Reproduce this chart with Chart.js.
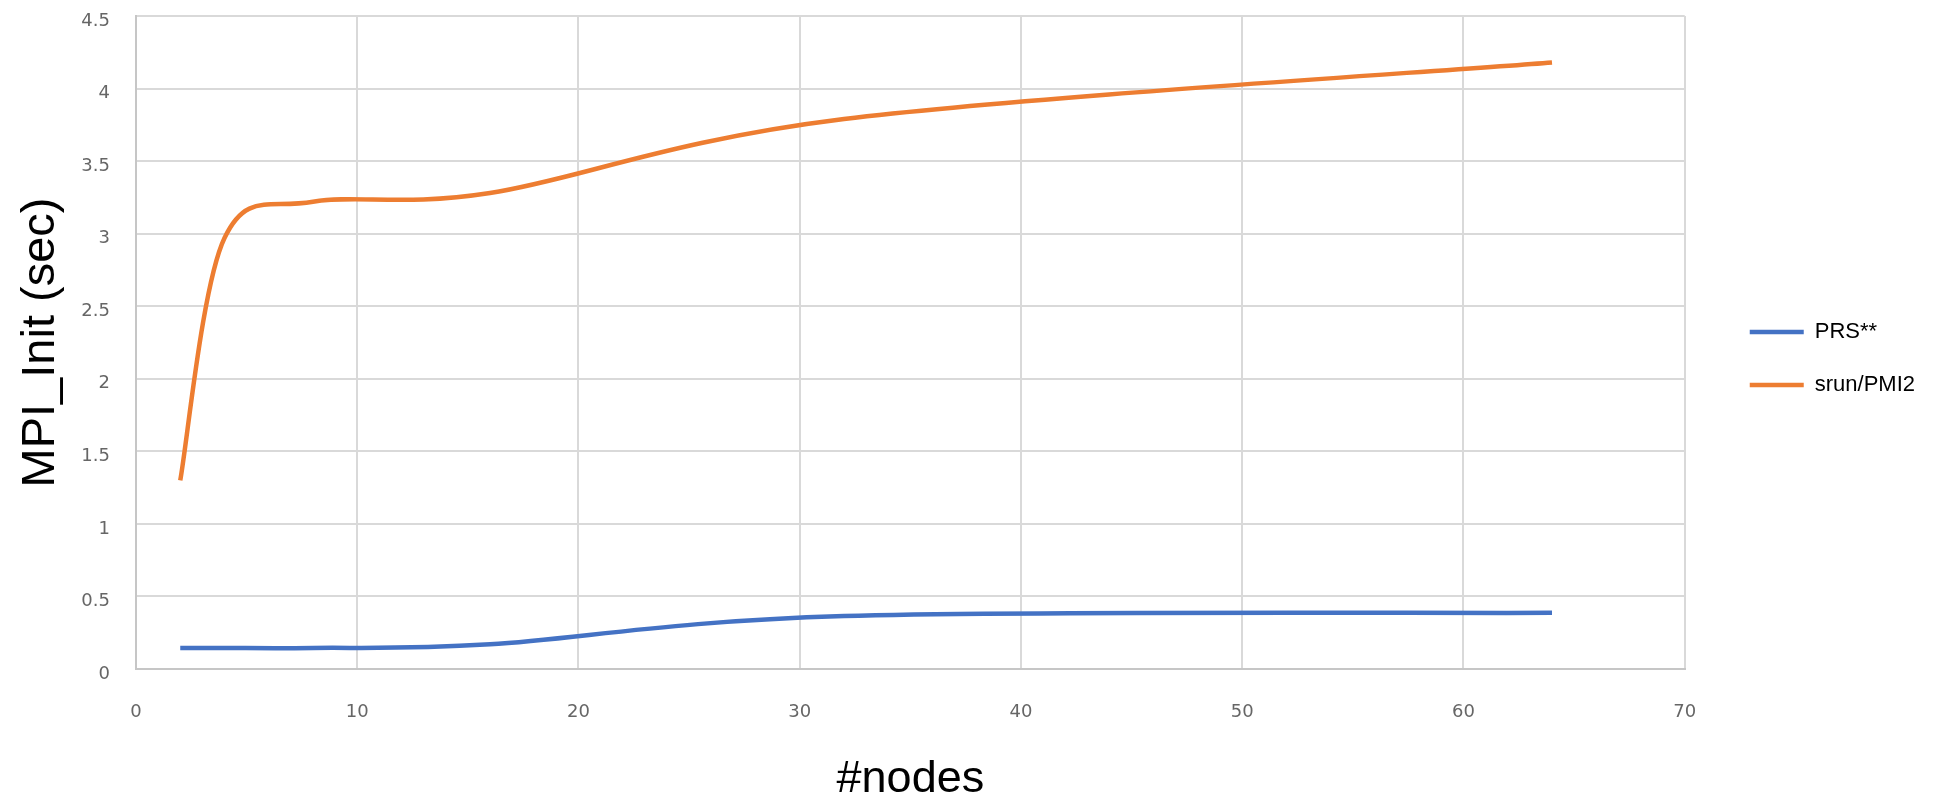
<!DOCTYPE html>
<html>
<head>
<meta charset="utf-8">
<title>MPI_Init vs #nodes</title>
<script src="https://cdn.jsdelivr.net/npm/chart.js@4.4.0/dist/chart.umd.min.js"></script>
<style>
  html, body { margin: 0; padding: 0; background: #fff; }
  canvas { display: block; }
</style>
</head>
<body>
<canvas id="mpiChart" width="1937" height="792"></canvas>
<script>
"use strict";

// values
const nodes = [2, 4, 8, 16, 32, 64];
const prsTimes = [0.145, 0.145, 0.145, 0.17, 0.365, 0.387];
const srunTimes = [1.3, 2.97, 3.22, 3.28, 3.79, 4.18];
const xTicks = [0, 10, 20, 30, 40, 50, 60, 70];
const yTicks = [0, 0.5, 1, 1.5, 2, 2.5, 3, 3.5, 4, 4.5];

const toPoints = values => values.map((y, i) => ({ x: nodes[i], y }));

const tickFont = { family: 'DejaVu Sans', size: 18 };
const gridColor = '#d9d9d9';

// the legend sits a bit right of and below where chart.js centers it
const legendNudge = {
    id: 'legendNudge',
    afterLayout(chart) {
        const legend = chart.legend;
        legend.left += 34;
        legend.right += 34;
        legend.top += 16;
        legend.bottom += 16;
    }
};

// spreadsheet style smoothing: control points at 1/6 of the neighbour span,
// chart.js weights them by distance which bends the first segment too much
const sheetSmoothing = {
    id: 'sheetSmoothing',
    beforeDatasetDraw(chart, { meta }) {
        const pts = meta.data;
        pts.forEach((pt, i) => {
            const prev = pts[i - 1] || pt;
            const next = pts[i + 1] || pt;
            const dx = (next.x - prev.x) / 6;
            const dy = (next.y - prev.y) / 6;
            pt.cp1x = pt.x - dx;
            pt.cp1y = pt.y - dy;
            pt.cp2x = pt.x + dx;
            pt.cp2y = pt.y + dy;
        });
        meta.dataset._pointsUpdated = true;
    }
};

const lineSet = (label, values, color) => ({
    label,
    data: toPoints(values),
    borderColor: color,
    backgroundColor: color,
    borderWidth: 4.5,
    pointRadius: 0,
    tension: 0.4,
    fill: false
});

new Chart(document.getElementById('mpiChart'), {
    type: 'line',
    data: {
        datasets: [
            lineSet('PRS**', prsTimes, '#4472C4'),
            lineSet('srun/PMI2', srunTimes, '#ED7D31')
        ]
    },
    plugins: [legendNudge, sheetSmoothing],
    options: {
        responsive: false,
        animation: false,
        layout: { padding: { top: 16, right: 46, bottom: 0, left: 0 } },
        plugins: {
            tooltip: { enabled: false },
            legend: {
                position: 'right',
                fullSize: false,
                labels: {
                    usePointStyle: true,
                    pointStyle: 'line',
                    pointStyleWidth: 54,
                    padding: 31,
                    color: '#000',
                    font: { family: 'Liberation Sans', size: 22 }
                }
            }
        },
        scales: {
            x: {
                type: 'linear',
                min: 0,
                max: 70,
                afterBuildTicks: scale => { scale.ticks = xTicks.map(value => ({ value })); },
                afterFit: scale => { scale.height = 123; },
                ticks: { font: tickFont, color: '#666', padding: 0, maxRotation: 0, autoSkip: false },
                grid: { color: gridColor, lineWidth: 2, tickLength: 33, tickColor: 'transparent' },
                border: { color: '#c6c6c6', width: 2 },
                title: {
                    display: true,
                    text: '#nodes',
                    color: '#000',
                    font: { family: 'Liberation Sans', size: 45, lineHeight: '24px' },
                    padding: 0
                }
            },
            y: {
                min: 0,
                max: 4.5,
                afterBuildTicks: scale => { scale.ticks = yTicks.map(value => ({ value })); },
                afterFit: scale => { scale.width = 136; },
                ticks: {
                    font: tickFont,
                    color: '#666',
                    padding: 0,
                    labelOffset: 5,
                    callback: value => String(value)
                },
                grid: { color: gridColor, lineWidth: 2, tickLength: 26, tickColor: 'transparent' },
                border: { color: '#c6c6c6', width: 2 },
                title: {
                    display: true,
                    text: 'MPI_Init (sec)',
                    color: '#000',
                    font: { family: 'Liberation Sans', size: 47, lineHeight: '36px' },
                    padding: { top: 23, bottom: 0 }
                }
            }
        }
    }
});
</script>
</body>
</html>
